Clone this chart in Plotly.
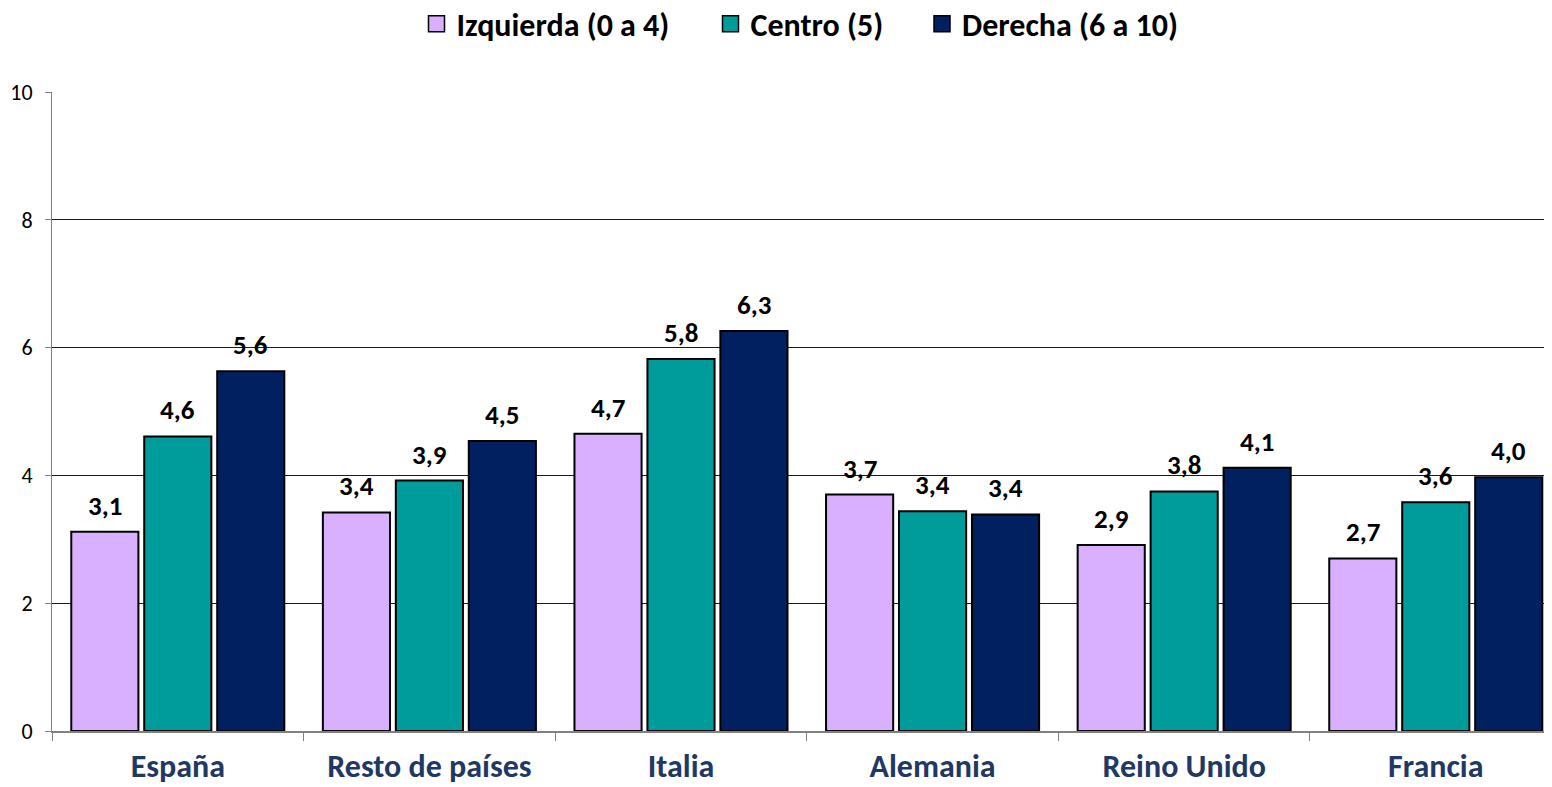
import plotly.graph_objects as go

categories = ["España", "Resto de países", "Italia", "Alemania", "Reino Unido", "Francia"]
series_names = ["Izquierda (0 a 4)", "Centro (5)", "Derecha (6 a 10)"]
izquierda = [3.12, 3.42, 4.65, 3.70, 2.91, 2.70]
centro = [4.61, 3.92, 5.82, 3.44, 3.75, 3.58]
derecha = [5.63, 4.54, 6.26, 3.39, 4.12, 3.97]
y_ticks = [0, 2, 4, 6, 8, 10]

colors = ["#D9B0FF", "#009C9C", "#002060"]
FONT = "Carlito, Lato, sans-serif"

fig = go.Figure()
all_series = [izquierda, centro, derecha]
legend_ids = ["legend", "legend2", "legend3"]
for name, vals, col in zip(series_names, all_series, colors):
    fig.add_trace(go.Bar(
        x=categories, y=vals, name=name, showlegend=False,
        marker=dict(color=col, line=dict(color="black", width=2)),
    ))
# legend entries with larger square symbols
for name, col, lid in zip(series_names, colors, legend_ids):
    fig.add_trace(go.Scatter(
        x=[None], y=[None], mode="markers", name=name, legend=lid,
        marker=dict(symbol="square", size=17, color=col, line=dict(color="black", width=1.5)),
    ))

# data labels
shifts = [-73, 0, 73]
for vals, xs in zip(all_series, shifts):
    for c, v in zip(categories, vals):
        fig.add_annotation(
            x=c, y=v, text=f"{v:.1f}".replace(".", ","),
            showarrow=False, xshift=xs, yshift=8, yanchor="bottom",
            font=dict(family=FONT, size=27, color="black", weight="bold"),
        )

leg_font = dict(family=FONT, size=32, color="black", weight="bold")
leg_common = dict(orientation="h", xanchor="left", y=1.1064, yanchor="middle",
                  font=leg_font, bgcolor="rgba(0,0,0,0)")

# page body has an 8px margin: figure occupies 8..1552 x 8..787
fig.update_layout(
    width=1544, height=779,
    margin=dict(l=44, r=0, t=84, b=56, autoexpand=False),
    plot_bgcolor="white", paper_bgcolor="white",
    barmode="group", bargap=0.13, bargroupgap=0.08,
    font=dict(family=FONT, color="black"),
    legend=dict(x=0.243, **leg_common),
    legend2=dict(x=0.439, **leg_common),
    legend3=dict(x=0.580, **leg_common),
    showlegend=True,
)
fig.update_yaxes(
    range=[0, 10], tickvals=y_ticks, ticktext=[str(t) for t in y_ticks],
    showgrid=True, gridcolor="#1a1a1a", gridwidth=1,
    showline=True, linecolor="#808080", linewidth=1,
    ticks="outside", ticklen=6, tickcolor="#808080",
    ticklabelstandoff=8,
    tickfont=dict(family=FONT, size=22, color="black"),
    zeroline=False, automargin=False,
)
fig.update_xaxes(
    range=[-0.5, 5.462],
    showline=True, linecolor="#808080", linewidth=2,
    ticks="outside", tickson="boundaries", ticklen=8, tickcolor="#808080",
    ticklabelstandoff=6,
    tickfont=dict(family=FONT, size=32, color="#1F3864", weight="bold"),
    automargin=False,
)

fig.write_html("out.html")
